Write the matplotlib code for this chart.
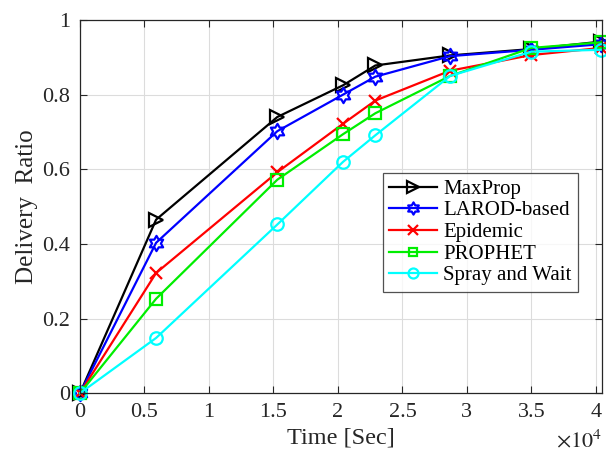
import matplotlib.pyplot as plt
from matplotlib.path import Path
import numpy as np

plt.rcParams['font.family'] = ['Liberation Serif', 'DejaVu Serif']
plt.rcParams['mathtext.fontset'] = 'stix'

# Delivery ratio over simulated time
time_sec = [0, 5900, 15300, 20400, 22900, 28700, 35000, 40400]
maxprop = [0, 0.465, 0.74, 0.825, 0.878, 0.905, 0.922, 0.942]
larod = [0, 0.403, 0.702, 0.80, 0.848, 0.903, 0.92, 0.935]
epidemic = [0, 0.322, 0.592, 0.722, 0.784, 0.864, 0.906, 0.925]
prophet = [0, 0.253, 0.572, 0.694, 0.75, 0.85, 0.925, 0.94]
spray_wait = [0, 0.148, 0.452, 0.62, 0.691, 0.85, 0.915, 0.92]

x_ticks = [0, 0.5, 1, 1.5, 2, 2.5, 3, 3.5, 4]
y_ticks = [0, 0.2, 0.4, 0.6, 0.8, 1]


def hexagram():
    # six-pointed star, like MATLAB's 'h' marker
    ang = np.pi / 2 + np.arange(12) * np.pi / 6
    r = np.where(np.arange(12) % 2 == 0, 1.0, 0.58)
    verts = np.column_stack([r * np.cos(ang), r * np.sin(ang)])
    verts = np.vstack([verts, verts[0]])
    codes = [Path.MOVETO] + [Path.LINETO] * 11 + [Path.CLOSEPOLY]
    return Path(verts, codes)


series = [
    ('MaxProp', maxprop, 'black', '>', 10),
    ('LAROD-based', larod, 'blue', hexagram(), 11),
    ('Epidemic', epidemic, 'red', 'x', 9),
    ('PROPHET', prophet, '#00ee00', 's', 8),
    ('Spray and Wait', spray_wait, 'cyan', 'o', 9),
]

fig = plt.figure(figsize=(6.06, 4.53), dpi=100)
ax = fig.add_axes([0.132, 0.132, 0.862, 0.824])

for name, vals, col, mk, ms in series:
    ax.plot(time_sec, vals, color=col, marker=mk, markersize=ms, linewidth=1.6,
            markerfacecolor='none', markeredgewidth=1.6, label=name, clip_on=False)

ax.set_xlim(0, 40500)
ax.set_ylim(0, 1)
ax.set_xticks([t * 1e4 for t in x_ticks])
ax.set_xticklabels([f'{t:g}' for t in x_ticks])
ax.set_yticks(y_ticks)
ax.set_yticklabels([f'{t:g}' for t in y_ticks])
ax.tick_params(direction='in', top=True, right=True, labelsize=16,
               colors='#262626', length=5, width=0.8, pad=7)
for s in ax.spines.values():
    s.set_color('#262626')
    s.set_linewidth(0.9)
ax.grid(True, color='#dcdcdc', linewidth=0.8)
ax.set_axisbelow(True)

ax.set_xlabel('Time [Sec]', fontsize=17.5, color='#262626', labelpad=4)
ax.set_ylabel('Delivery  Ratio', fontsize=18, color='#262626', labelpad=3)
ax.text(1.0, -0.128, r'$\times10^4$', transform=ax.transAxes, ha='right', va='center',
        fontsize=16, color='#262626')

leg = ax.legend(loc='upper left', bbox_to_anchor=(0.58, 0.59), fontsize=15,
                frameon=True, fancybox=False, edgecolor='#262626', handlelength=2.3,
                handletextpad=0.3, labelspacing=0.1, borderpad=0.3, borderaxespad=0,
                markerscale=0.8)
leg.get_frame().set_linewidth(0.9)

fig.savefig('out.png', dpi=100)
